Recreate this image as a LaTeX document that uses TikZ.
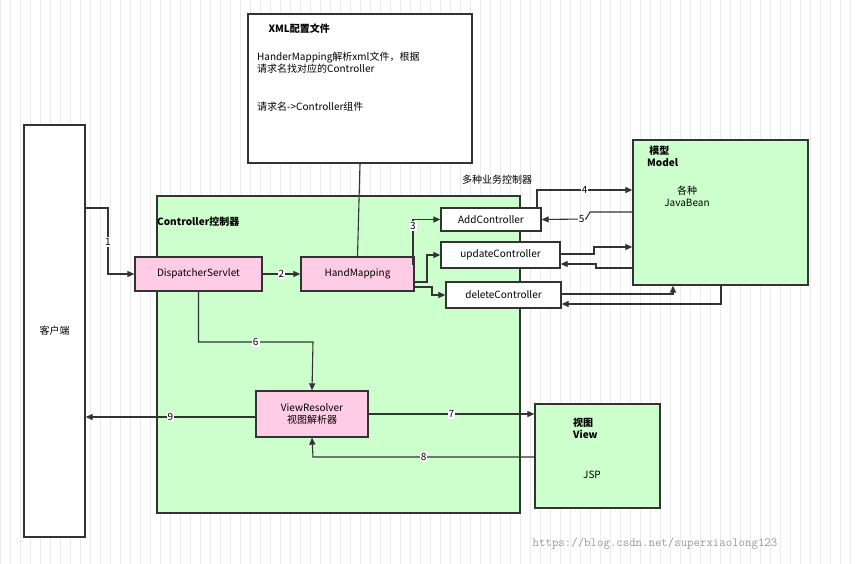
\documentclass[tikz,border=0pt]{standalone}
\usepackage{fontspec}
\setmainfont{Noto Sans CJK SC}
\usetikzlibrary{arrows.meta}
\definecolor{boxgreen}{HTML}{CCFFCC}
\definecolor{boxpink}{HTML}{FFCCE6}
\definecolor{edge}{HTML}{333333}
\begin{document}
\begin{tikzpicture}[x=1pt,y=-1pt,font=\fontsize{10}{12}\selectfont]
    % `box' is used for all rectangles, `pinkbox'/`greenbox' add the fill.
    % `arr' is the connector with a filled tip, `lbl' the step number on it.
    \tikzstyle{box} = [draw=edge,line width=1.3pt,inner sep=0pt,align=center]
    \tikzstyle{greenbox} = [box,fill=boxgreen]
    \tikzstyle{pinkbox} = [box,fill=boxpink]
    \tikzstyle{wbox} = [box,fill=white]
    \tikzstyle{arr} = [draw=edge,line width=1.1pt,-{Triangle[length=7pt,width=6pt]}]
    \tikzstyle{line} = [draw=edge,line width=1.1pt]
    \tikzstyle{lbl} = [fill=white,inner sep=1pt]
    \tikzstyle{bold} = [font=\fontsize{10}{12}\selectfont\bfseries]
    %
    \useasboundingbox (0,0) rectangle (857,564);
    \fill[white] (0,0) rectangle (857,564);
    \draw[black!8,step=10] (0,0) grid (857,564);
    %
    \node[wbox,minimum width=61,minimum height=412] (client) at (54.5,331) {客户端};
    \node[wbox,minimum width=224,minimum height=149] (xml) at (360,88.5) {};
    \node[greenbox,minimum width=363,minimum height=317] (ctrl) at (338.5,354.5) {};
    \node[pinkbox,minimum width=127,minimum height=34] (disp) at (198.5,274) {DispatcherServlet};
    \node[pinkbox,minimum width=113,minimum height=34] (hm) at (357.5,274) {HandMapping};
    \node[wbox,minimum width=100,minimum height=23] (add) at (491,219.5) {AddController};
    \node[wbox,minimum width=119,minimum height=26] (upd) at (500.5,255) {updateController};
    \node[wbox,minimum width=115,minimum height=26] (del) at (503.5,295) {deleteController};
    \node[greenbox,minimum width=175,minimum height=145] (model) at (720.5,212.5) {};
    \node[pinkbox,minimum width=112,minimum height=46] (vr) at (312,414) {ViewResolver\\视图解析器};
    \node[greenbox,minimum width=125,minimum height=104] (view) at (597.5,456) {};
    %
    % texts inside the boxes
    \node[anchor=west,bold] (xmlt) at (265,29) {XML配置文件};
    \node[anchor=north west,align=left,inner sep=0pt] (xmld) at (257,52) {HanderMapping解析xml文件，根据\\请求名找对应的Controller};
    \node[anchor=west,inner sep=0pt] (xmle) at (257,107) {请求名->Controller组件};
    \node[anchor=west,inner sep=0pt,bold] (ctrlt) at (157,222) {Controller控制器};
    \node[anchor=west,inner sep=0pt] (multi) at (462,180) {多种业务控制器};
    \node[anchor=north west,align=left,inner sep=0pt,bold] (modelt) at (647,146) {\ 模型\\Model};
    \node[align=center,inner sep=0pt] (modeld) at (687,196) {各种\\JavaBean};
    \node[anchor=north west,align=left,inner sep=0pt,bold] (viewt) at (573,418) {视图\\View};
    \node[inner sep=0pt] (jsp) at (592,475) {JSP};
    \node[text=black!40,font=\fontsize{12.5}{14}\selectfont\ttfamily] (wm) at (655,544) {https://blog.csdn.net/superxiaolong123};
    %
    % connectors
    \draw[line] (xml.south) -- (hm.north);
    \draw[arr] (client.east |- 0,208) -| (108,240) |- (disp.west);
    \node[lbl] at (108,242) {1};
    \draw[arr] (disp) -- node[lbl] {2} (hm);
    \draw[arr] (hm.east |- 0,264) -| (413,235) |- (add.west);
    \node[lbl] at (413,226) {3};
    \draw[arr] (hm.east |- 0,282) -| (427,265) |- (upd.west);
    \draw[arr] (hm.east |- 0,287) -| (432,292) |- (del.west);
    \draw[arr] (add.north -| 537,0) |- node[lbl,pos=0.75] {4} (model.west |- 0,190);
    \draw[arr] (model.west |- 0,212) -- (590,212) -- (586,219) -- node[lbl,pos=0.1] {5} (add.east);
    \draw[arr] (upd.east |- 0,254) -| (594,247) -- (model.west |- 0,247);
    \draw[arr] (model.west |- 0,268) -| (596,264) -- (upd.east |- 0,264);
    \draw[arr] (del.east |- 0,294) -| (model.south -| 673,0);
    \draw[arr] (model.south -| 721,0) |- (del.east |- 0,304);
    \draw[arr] (disp.south) |- node[lbl,pos=0.75] {6} (313,342) -- (vr.north);
    \draw[arr] (vr.east) -- node[lbl,pos=0.5] {7} (view.west |- vr.east);
    \draw[arr] (view.west |- 0,457) -- node[lbl,pos=0.5] {8} (313,457) -- (vr.south);
    \draw[arr] (vr.west |- 0,417) -- node[lbl,pos=0.5] {9} (client.east |- 0,417);
\end{tikzpicture}
\end{document}
